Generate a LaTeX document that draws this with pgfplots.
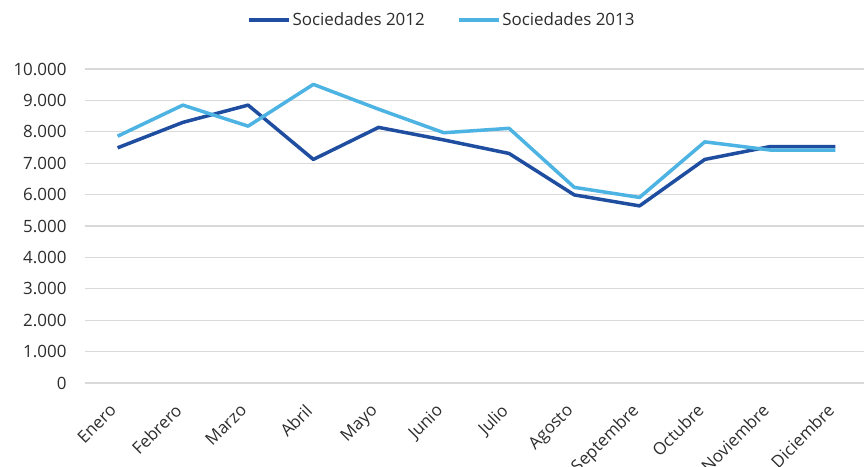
\documentclass[border=0pt]{standalone}
\usepackage{pgfplots}
\pgfplotsset{compat=1.18}
\usepackage{fontspec}
\setmainfont{Open Sans}
\definecolor{dark}{RGB}{31,78,160}
\definecolor{light}{RGB}{76,179,226}
\definecolor{txt}{RGB}{45,45,45}
\definecolor{gridc}{RGB}{217,217,217}
\begin{document}
\begin{tikzpicture}
\begin{axis}[
  at={(0,0)}, anchor=south west,
  scale only axis, width=779bp, height=314bp,
  xmin=-0.5, xmax=11.44, ymin=0, ymax=10000,
  axis line style={draw=none},
  ymajorgrids, grid style={gridc, line width=1.2bp},
  major tick length=0pt,
  ytick={0,1000,...,10000},
  scaled y ticks=false,
  xtick={0,...,11},
  xticklabels={Enero,Febrero,Marzo,Abril,Mayo,Junio,Julio,Agosto,Septembre,Octubre,Noviembre,Diciembre},
  /pgf/number format/assume math mode=true,
  /pgf/number format/1000 sep={.},
  ticklabel style={font=\fontsize{17}{20}\selectfont, text=txt},
  yticklabel style={xshift=-15bp},
  xticklabel style={yshift=-15bp, xshift=-9bp, rotate=45, anchor=north east},
  legend style={at={(0.458,1.156)}, anchor=center, legend columns=2, draw=none,
    font=\fontsize{17}{20}\selectfont, text=txt,
    /tikz/every even column/.append style={column sep=30bp}},
  legend image code/.code={\draw[#1, line width=3.5bp] (0bp,0bp) -- (40bp,0bp);},
  legend cell align=left,
]
\addplot[dark, line width=3.5bp, line join=round] coordinates {
(0,7490) (1,8300) (2,8850) (3,7120) (4,8140) (5,7740) (6,7310) (7,5990) (8,5640) (9,7120) (10,7530) (11,7530)};
\addlegendentry{Sociedades 2012}
\addplot[light, line width=3.5bp, line join=round] coordinates {
(0,7860) (1,8850) (2,8180) (3,9510) (4,8720) (5,7970) (6,8110) (7,6230) (8,5910) (9,7680) (10,7420) (11,7420)};
\addlegendentry{Sociedades 2013}
\end{axis}
\pgfresetboundingbox
\path[use as bounding box] (-85bp,-84bp) rectangle (779bp,383bp);
\end{tikzpicture}
\end{document}
